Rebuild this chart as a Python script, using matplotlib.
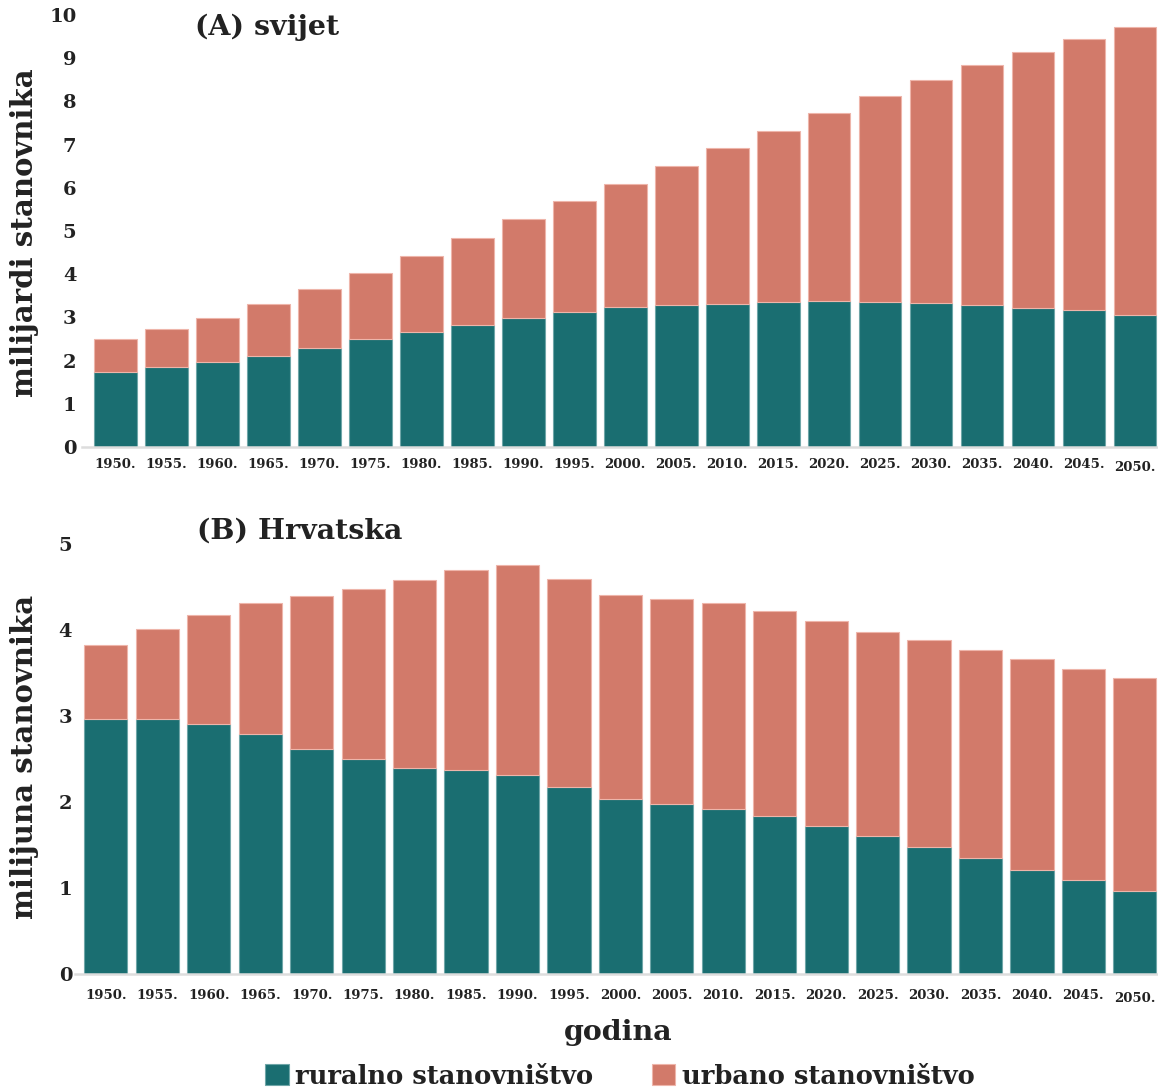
import numpy as np
import matplotlib
matplotlib.use('Agg')
import matplotlib.pyplot as plt
import matplotlib.transforms as mtransforms
from matplotlib.ticker import MultipleLocator

# godine
years = [1950, 1955, 1960, 1965, 1970, 1975, 1980, 1985, 1990, 1995, 2000,
         2005, 2010, 2015, 2020, 2025, 2030, 2035, 2040, 2045, 2050]
year_labels = [str(y) + '.' for y in years]

# (A) svijet, milijardi
svijet_ukupno = [2.49, 2.73, 2.99, 3.30, 3.66, 4.03, 4.41, 4.83, 5.28, 5.69, 6.09,
                 6.50, 6.91, 7.32, 7.74, 8.13, 8.49, 8.84, 9.14, 9.44, 9.72]
svijet_ruralno = [1.74, 1.85, 1.97, 2.11, 2.30, 2.50, 2.66, 2.83, 2.99, 3.13, 3.24,
                  3.28, 3.32, 3.36, 3.38, 3.36, 3.34, 3.29, 3.22, 3.16, 3.06]

# (B) Hrvatska, milijuna
hr_ukupno = [3.83, 4.01, 4.17, 4.31, 4.40, 4.48, 4.58, 4.70, 4.76, 4.59, 4.41,
             4.36, 4.31, 4.22, 4.10, 3.98, 3.88, 3.77, 3.66, 3.55, 3.44]
hr_ruralno = [2.97, 2.96, 2.91, 2.79, 2.62, 2.50, 2.40, 2.37, 2.31, 2.18, 2.04,
              1.98, 1.92, 1.84, 1.72, 1.61, 1.48, 1.35, 1.21, 1.09, 0.97]

teal = '#1a6e71'
salmon = '#d27a6a'
FONT = ['DejaVu Serif']
plt.rcParams['font.family'] = FONT
plt.rcParams['font.weight'] = 'bold'

W, H = 1158, 1088
fig = plt.figure(figsize=(W / 100, H / 100), dpi=100)

def px_axes(left, right, top, bottom):
    return fig.add_axes([left / W, 1 - bottom / H, (right - left) / W, (bottom - top) / H])

def panel(ax, total, rural, ymax, xlim, label_pad, label_drop):
    x = np.arange(len(years))
    urban = np.array(total) - np.array(rural)
    b1 = ax.bar(x, rural, width=0.84, color=teal, edgecolor='#6fa6a8', linewidth=0.8)
    b2 = ax.bar(x, urban, bottom=rural, width=0.84, color=salmon, edgecolor='#eeb5aa', linewidth=0.8)
    ax.set_xlim(*xlim)
    ax.set_ylim(0, ymax)
    ax.yaxis.set_major_locator(MultipleLocator(1))
    ax.set_xticks(x)
    ax.set_xticklabels(year_labels, fontsize=9.5, fontweight='bold', color='#222222')
    ax.tick_params(axis='y', length=0, pad=label_pad, labelsize=14, labelcolor='#222222')
    ax.tick_params(axis='x', length=0, pad=label_drop)
    for s in ['top', 'right', 'left']:
        ax.spines[s].set_visible(False)
    ax.spines['bottom'].set_color('#dddddd')
    ax.spines['bottom'].set_linewidth(1.8)
    # zadnja godina malo niže
    last = ax.get_xticklabels()[-1]
    last.set_transform(last.get_transform() + mtransforms.ScaledTranslation(0, -3 / 100, fig.dpi_scale_trans))
    return b1, b2

axA = px_axes(82, 1158, 15, 447)
bA = panel(axA, svijet_ukupno, svijet_ruralno, 10, (-0.65, 20.45), 4, 8)
axB = px_axes(75, 1158, 544, 974)
bB = panel(axB, hr_ukupno, hr_ruralno, 5, (-0.60, 20.45), 2, 11)

fig.text(195 / W, 1 - 27 / H, '(A) svijet', fontsize=20.5, fontweight='bold', color='#222222', va='center', ha='left')
fig.text(197 / W, 1 - 531 / H, '(B) Hrvatska', fontsize=20.5, fontweight='bold', color='#222222', va='center', ha='left')

fig.text(25 / W, 1 - 233 / H, 'milijardi stanovnika', rotation=90, fontsize=21, fontweight='bold',
         color='#222222', va='center', ha='center')
fig.text(25 / W, 1 - 757 / H, 'milijuna stanovnika', rotation=90, fontsize=21, fontweight='bold',
         color='#222222', va='center', ha='center')
fig.text(618 / W, 1 - 1032 / H, 'godina', fontsize=20.5, fontweight='bold', color='#222222',
         va='center', ha='center')

fig.legend([bB[0], bB[1]], ['ruralno stanovništvo', 'urbano stanovništvo'],
           loc='center', bbox_to_anchor=(620 / W, 1 - 1076 / H), ncol=2, frameon=False,
           prop={'family': FONT, 'weight': 'bold', 'size': 18.5},
           handlelength=0.9, handleheight=0.9, handletextpad=0.25, columnspacing=2.3,
           labelcolor='#222222', borderpad=0, borderaxespad=0)

fig.savefig('out.png', dpi=100)
